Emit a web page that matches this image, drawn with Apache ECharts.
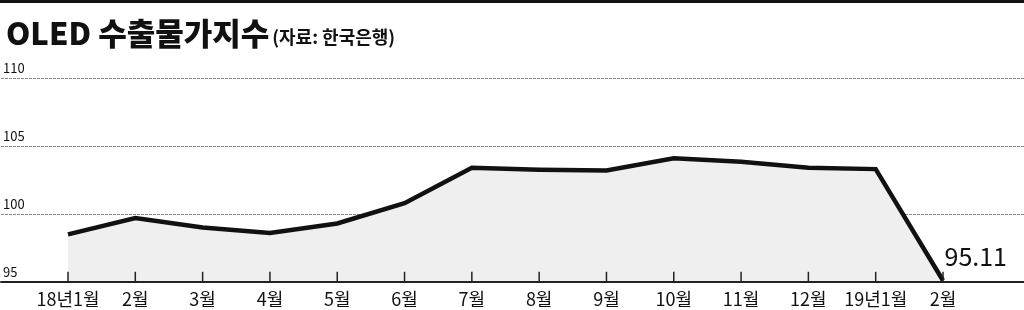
<!DOCTYPE html>
<html>
<head>
<meta charset="utf-8">
<script src="https://cdn.jsdelivr.net/npm/echarts@6/dist/echarts.min.js"></script>
<style>
html,body{margin:0;padding:0;background:#fff;}
#c{width:1024px;height:310px;}
</style>
</head>
<body>
<div id="c"></div>
<script>
const categories = ['18년1월','2월','3월','4월','5월','6월','7월','8월','9월','10월','11월','12월','19년1월','2월'];
const values = [98.5, 99.7, 99.0, 98.6, 99.3, 100.8, 103.4, 103.25, 103.2, 104.1, 103.85, 103.4, 103.3, 95.11];
const yTicks = { min: 95, max: 110, interval: 5 };
const tickHeight = 0.75;
const titleMain = 'OLED 수출물가지수';
const titleSource = '(자료: 한국은행)';

const FONT = '"Liberation Sans Narrow", "Noto Sans CJK KR", sans-serif';
const chart = echarts.init(document.getElementById('c'));

const seriesData = values.map((v, i) => {
  if (i === values.length - 1) {
    return {
      value: v,
      symbol: 'circle',
      symbolSize: 1,
      itemStyle: { color: 'rgba(0,0,0,0)' },
      label: {
        show: true,
        position: 'right',
        distance: 1,
        offset: [0, -24],
        formatter: '{c}',
        fontSize: 25,
        fontFamily: FONT,
        color: '#111',
        letterSpacing: -1.5
      }
    };
  }
  return { value: v, symbol: 'none' };
});

chart.setOption({
  animation: false,
  backgroundColor: '#fff',
  graphic: [
    { type: 'rect', left: 0, top: 0, shape: { width: 1024, height: 3 }, style: { fill: '#111' } }
  ],
  title: {
    left: 1,
    top: 13,
    text: '{a|' + titleMain + '}{b|' + titleSource + '}',
    textStyle: {
      rich: {
        a: { fontSize: 31, fontWeight: 900, fontFamily: '"Noto Sans CJK KR", sans-serif', color: '#111', letterSpacing: -1 },
        b: { fontSize: 18, fontFamily: '"Noto Sans CJK KR", sans-serif', color: '#111', padding: [8, 0, 0, 3], letterSpacing: -0.5 }
      }
    }
  },
  grid: [
    { left: 0, right: 0, top: 78, bottom: 28 },
    { left: 68, right: 81, top: 78, bottom: 28 }
  ],
  xAxis: [
    {
      gridIndex: 0, type: 'value', min: 0, max: 1,
      axisLine: { show: true, onZero: false, lineStyle: { color: '#222', width: 2 } },
      axisTick: { show: false }, axisLabel: { show: false }, splitLine: { show: false },
      z: 4
    },
    {
      gridIndex: 1, type: 'category', data: categories, boundaryGap: false,
      axisLine: { show: false, onZero: false },
      axisTick: { show: false },
      axisLabel: { interval: 0, margin: 8, fontSize: 18, fontFamily: FONT, color: '#111' },
      splitLine: { show: false }
    }
  ],
  yAxis: [
    {
      gridIndex: 0, type: 'value', min: yTicks.min, max: yTicks.max, interval: yTicks.interval,
      axisLine: { show: false }, axisTick: { show: false },
      axisLabel: { inside: true, margin: 2, verticalAlign: 'bottom', padding: [0, 0, 3, 0], fontSize: 13, fontFamily: FONT, color: '#111' },
      splitLine: { show: true, lineStyle: { type: [3, 1], color: '#888', width: 1 } },
      z: 1
    },
    {
      gridIndex: 1, type: 'value', min: yTicks.min, max: yTicks.max, interval: yTicks.interval,
      show: false
    }
  ],
  series: [
    {
      type: 'line',
      xAxisIndex: 1, yAxisIndex: 1,
      data: seriesData,
      showSymbol: true,
      lineStyle: { color: '#111', width: 4.5, join: 'miter' },
      areaStyle: { color: '#efefef', opacity: 1, origin: 'start' },
      z: 2
    },
    {
      type: 'bar',
      xAxisIndex: 1, yAxisIndex: 1,
      data: categories.map(() => yTicks.min + tickHeight),
      barWidth: 1.5,
      silent: true,
      itemStyle: { color: '#222' },
      z: 5
    }
  ]
});
</script>
</body>
</html>
